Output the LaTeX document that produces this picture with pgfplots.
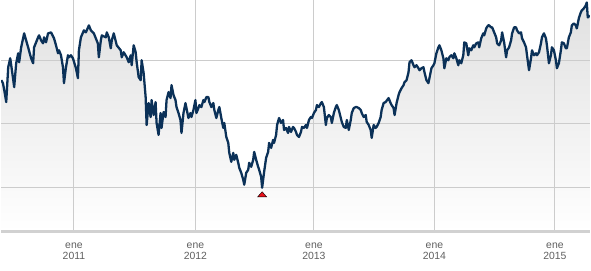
\documentclass[border=0pt]{standalone}
\usepackage{pgfplots}
\usepackage{pgfplotstable}
\usepackage{fontspec}
\setmainfont{Liberation Sans}
\pgfplotsset{compat=1.18}
\definecolor{linecol}{HTML}{0B3158}
\definecolor{gridcol}{HTML}{CCCCCC}
\definecolor{labcol}{HTML}{5F5F5F}
\definecolor{mincol}{HTML}{E8101A}
\pgfplotstableread{
x v
0 152
1.7 149
3 142
5 130
7 165
9 174
11 160
13 145
15 169
17 179
18 170
20 185
23 199
25 192
27 185
30 174
32 169
33 185
37 195
38 197
40 192
42 189
43 195
45 190
47 199
50 200
53 194
55 187
57 179
58 182
60 177
62 165
63 149
65 165
67 177
68 175
70 177
72 174
75 164
77 154
78 182
80 195
83 202
85 200
88 207
90 202
93 199
97 189
98 175
100 192
101 197
105 195
106 200
108 195
110 184
111 192
113 199
116 187
120 182
121 175
123 180
126 175
128 170
130 177
131 167
133 187
135 180
136 170
138 155
140 152
141 172
143 159
145 135
146 107
148 129
150 115
151 132
153 117
155 130
156 109
158 97
160 119
161 104
163 120
165 115
166 132
168 140
170 134
171 147
173 137
175 132
176 125
178 119
180 112
181 99
183 119
185 129
186 124
188 114
190 119
191 115
193 122
195 132
196 119
198 124
199 127
201 125
203 132
204 130
206 135
208 135
209 130
211 125
213 129
214 122
216 114
218 122
219 125
221 114
223 104
224 109
226 95
228 89
229 79
231 70
233 79
234 72
236 77
238 69
239 64
241 59
243 52
244 47
246 59
248 62
249 69
251 65
253 72
254 80
256 72
258 65
259 62
261 55
262 44
264 60
266 74
268 80
269 89
271 84
273 92
274 89
276 97
277 107
279 114
281 109
283 112
284 102
286 104
288 99
289 105
291 100
293 105
294 104
296 100
297 97
299 95
301 100
302 105
304 104
306 107
307 104
309 112
311 115
312 114
314 119
316 122
317 127
319 125
321 129
322 130
324 125
326 107
327 114
329 117
331 115
332 109
334 119
336 125
337 127
339 122
341 114
342 110
344 105
346 104
347 112
349 102
351 112
352 119
354 124
356 125
357 125
359 124
361 122
362 119
364 115
366 117
367 110
369 107
371 102
372 94
374 107
376 104
377 105
379 109
381 115
382 122
384 129
386 130
389 134
391 129
392 127
394 124
395 117
397 129
399 137
400 140
402 144
404 147
405 150
407 152
409 160
410 170
412 172
414 167
415 165
417 167
419 164
420 162
422 164
424 165
425 160
427 152
429 149
430 154
432 164
434 167
435 169
437 179
439 185
440 187
442 182
444 174
445 164
446 169
447 174
449 172
450 175
452 177
454 174
455 179
457 174
459 167
460 172
462 169
464 177
465 190
467 189
469 177
470 184
472 182
474 187
475 185
477 189
479 190
480 185
482 194
484 199
485 197
487 204
489 207
490 207
492 205
493 205
495 200
497 195
498 189
500 187
502 192
503 200
505 190
507 175
508 182
510 185
512 192
513 199
515 205
517 205
518 202
520 199
522 200
523 194
525 190
527 185
528 177
530 162
532 174
533 182
535 177
537 179
538 177
540 180
542 189
543 195
545 199
547 194
548 187
550 169
552 177
553 185
555 182
557 172
558 164
560 169
562 182
563 190
565 189
567 184
568 184
570 195
572 200
573 207
575 209
577 207
578 204
580 214
582 220
583 222
585 224
587 227
588 230
589 215
591 217
}\pricedata
\begin{document}
\begin{tikzpicture}
\begin{axis}[
  at={(0,0)}, anchor=north west,
  scale only axis,
  width=591bp, height=232bp,
  xmin=0, xmax=591, ymin=0, ymax=232,
  set layers=standard,
  axis line style={draw=none},
  major tick length=0,
  xtick={73,195,314,435,556},
  xticklabels={{ene\\2011},{ene\\2012},{ene\\2013},{ene\\2014},{ene\\2015}},
  xticklabel style={align=center, font=\fontsize{10.5}{11.5}\selectfont, text=labcol, yshift=-7.5bp},
  ytick={44,108,172},
  yticklabels={},
  yticklabel style={inner sep=0pt, outer sep=0pt},
  extra y ticks={0},
  extra y tick labels={},
  extra y tick style={grid style={draw=black!18, line width=2.5bp}, yticklabel style={inner sep=0pt, outer sep=0pt}},
  xmajorgrids, ymajorgrids,
  grid style={draw=gridcol, line width=1bp},
  clip=true,
]
\addplot[draw=none, top color=black!12, bottom color=white, on layer=axis background] table[x=x, y=v] {\pricedata} \closedcycle;
\addplot[linecol, line width=2.3bp, line join=round] table[x=x, y=v] {\pricedata};
\addplot[only marks, mark=triangle*, mark size=3.5bp, mark options={xscale=1.5, fill=mincol, draw=none}] coordinates {(262,36.5)};
\end{axis}
\path (0,0) rectangle (591bp,-271bp);
\end{tikzpicture}
\end{document}
